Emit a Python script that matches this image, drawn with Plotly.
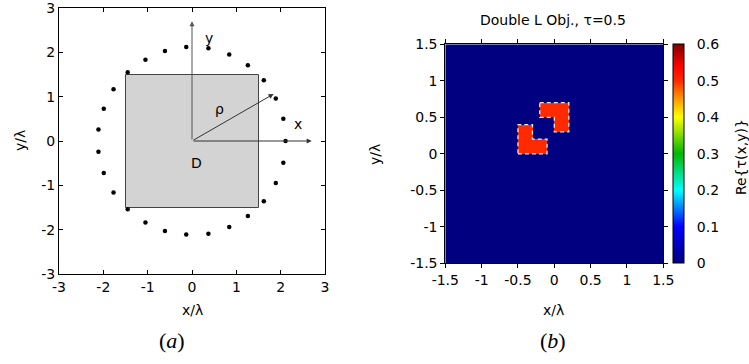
import numpy as np
import plotly.graph_objects as go

# ---------------- data ----------------
# receiver points around domain D (panel a)
rx_x = [2.11, 2.06, 1.89, 1.62, 1.26, 0.84, 0.37, -0.13, -0.61, -1.05, -1.45, -1.77, -1.99, -2.11,
        -2.11, -1.99, -1.77, -1.45, -1.05, -0.61, -0.13, 0.37, 0.84, 1.26, 1.62, 1.89, 2.06]
rx_y = [0.0, 0.50, 0.96, 1.37, 1.71, 1.95, 2.09, 2.12, 2.03, 1.83, 1.55, 1.17, 0.73, 0.26,
        -0.24, -0.72, -1.16, -1.54, -1.84, -2.03, -2.11, -2.09, -1.94, -1.69, -1.36, -0.95, -0.49]

# domain D square corners
dom_x = [-1.5, 1.5, 1.5, -1.5, -1.5]
dom_y = [-1.5, -1.5, 1.5, 1.5, -1.5]

# double-L object (panel b): rectangles (x0, x1, y0, y1) with contrast value
obj_rects = [(-0.5, -0.3, 0.0, 0.4), (-0.5, -0.1, 0.0, 0.2),
             (-0.2, 0.2, 0.5, 0.7), (0.0, 0.2, 0.3, 0.7)]
obj_value = 0.5
# outlines of the two L shapes
L1_x = [-0.5, -0.1, -0.1, -0.3, -0.3, -0.5, -0.5]
L1_y = [0.0, 0.0, 0.2, 0.2, 0.4, 0.4, 0.0]
L2_x = [-0.2, 0.2, 0.2, 0.0, 0.0, -0.2, -0.2]
L2_y = [0.7, 0.7, 0.3, 0.3, 0.5, 0.5, 0.7]

ticks_a = [-3, -2, -1, 0, 1, 2, 3]
ticks_a_text = ["-3", "-2", "-1", "0", "1", "2", "3"]
ticks_b = [-1.5, -1, -0.5, 0, 0.5, 1, 1.5]
ticks_b_text = ["-1.5", "-1", "-0.5", "0", "0.5", "1", "1.5"]
cb_ticks = [0, 0.1, 0.2, 0.3, 0.4, 0.5, 0.6]
cb_ticks_text = ["0", "0.1", "0.2", "0.3", "0.4", "0.5", "0.6"]

# grid for heatmap
step = 0.05
centers = np.arange(-1.5 + step / 2, 1.5, step)
Z = np.zeros((len(centers), len(centers)))
for (x0, x1, y0, y1) in obj_rects:
    mx = (centers > x0) & (centers < x1)
    my = (centers > y0) & (centers < y1)
    Z[np.ix_(my, mx)] = obj_value

W, H = 749, 364
FONT = "DejaVu Sans"
FS = 14

fig = go.Figure()

# ---- panel a ----
fig.add_trace(go.Scatter(x=dom_x, y=dom_y, mode="lines", fill="toself",
                         fillcolor="#d3d3d3", line=dict(color="#444", width=1),
                         xaxis="x", yaxis="y", showlegend=False, hoverinfo="skip"))
fig.add_trace(go.Scatter(x=rx_x, y=rx_y, mode="markers",
                         marker=dict(color="black", size=4.5),
                         xaxis="x", yaxis="y", showlegend=False))

# ---- panel b ----
cscale = [[0.0, "#000080"], [0.167, "#0000ff"], [0.333, "#00ffff"], [0.5, "#00b800"],
          [0.667, "#ffff00"], [0.75, "#ff9900"], [0.833, "#ff2a00"], [0.9, "#ff0000"],
          [1.0, "#800000"]]
fig.add_trace(go.Heatmap(x=centers, y=centers, z=Z, zmin=0, zmax=0.6,
                         colorscale=cscale, xaxis="x2", yaxis="y2",
                         colorbar=dict(x=672.7 / W, xanchor="left", thickness=11,
                                       len=219, lenmode="pixels",
                                       y=(364 - 153.8) / H, yanchor="middle",
                                       outlinewidth=1, outlinecolor="black",
                                       tickvals=cb_ticks, ticktext=cb_ticks_text,
                                       ticks="outside", ticklen=10, tickcolor="white",
                                       tickfont=dict(family=FONT, size=FS, color="black"),
                                       xpad=0, ypad=0)))
for lx, ly in [(L1_x, L1_y), (L2_x, L2_y)]:
    fig.add_trace(go.Scatter(x=lx, y=ly, mode="lines",
                             line=dict(color="#e8e8f0", width=1.3, dash="4px,3px"),
                             xaxis="x2", yaxis="y2", showlegend=False, hoverinfo="skip"))

axis_common = dict(showgrid=False, zeroline=False, showline=True, linecolor="black",
                   linewidth=1, mirror="allticks", ticklen=4, tickcolor="black",
                   automargin=False, ticklabeloverflow="allow",
                   tickfont=dict(family=FONT, size=FS, color="black"))

fig.update_layout(
    width=W, height=H, margin=dict(l=0, r=0, t=0, b=0, autoexpand=False),
    paper_bgcolor="white", plot_bgcolor="white", showlegend=False,
    xaxis=dict(domain=[59 / W, 325 / W], range=[-3, 3], tickvals=ticks_a,
               ticktext=ticks_a_text, ticks="inside", anchor="y", **axis_common),
    yaxis=dict(domain=[(364 - 274) / H, (364 - 8) / H], range=[-3, 3], tickvals=ticks_a,
               ticktext=ticks_a_text, ticks="inside", anchor="x", **axis_common),
    xaxis2=dict(domain=[445.3 / W, 663.3 / W], range=[-1.5, 1.5], tickvals=ticks_b,
                ticktext=ticks_b_text, ticks="outside", anchor="y2", **axis_common),
    yaxis2=dict(domain=[(364 - 263.3) / H, (364 - 44.3) / H], range=[-1.5, 1.5],
                tickvals=ticks_b, ticktext=ticks_b_text, ticks="outside", anchor="x2",
                **axis_common),
)

ann = []
# arrows in panel a
for (ax_, ay_, x_, y_, col) in [(0, 0, 0, 2.7, "#555"), (0, 0, 2.7, 0, "#333"),
                                (0, 0, 1.84, 1.06, "#333")]:
    ann.append(dict(x=x_, y=y_, ax=ax_, ay=ay_, xref="x", yref="y", axref="x", ayref="y",
                    showarrow=True, arrowhead=2, arrowsize=1, arrowwidth=1, arrowcolor=col,
                    text=""))
for (t, x_, y_) in [("y", 0.38, 2.33), ("x", 2.4, 0.39), ("ρ", 0.63, 0.73), ("D", 0.1, -0.5)]:
    ann.append(dict(x=x_, y=y_, xref="x", yref="y", text=t, showarrow=False,
                    font=dict(family=FONT, size=FS, color="black")))

def pa(text, px, py, size=FS, angle=0, family=FONT):
    return dict(x=px / W, y=1 - py / H, xref="paper", yref="paper", text=text,
                showarrow=False, textangle=angle, xanchor="center", yanchor="middle",
                font=dict(family=family, size=size, color="black"))

ann += [
    pa("x/λ", 192, 310),
    pa("y/λ", 20, 141, angle=-90),
    pa("(<i>a</i>)", 172, 340, size=22, family="Liberation Serif"),
    pa("x/λ", 553, 310),
    pa("y/λ", 375, 155, angle=-90),
    pa("(<i>b</i>)", 553, 340, size=22, family="Liberation Serif"),
    pa("Double L Obj., τ=0.5", 553, 20),
    pa("Re{τ(x,y)}", 741, 157, angle=-90),
]
fig.update_layout(annotations=ann)

fig.write_html("out.html", config={"displayModeBar": False},
               post_script="document.body.style.margin='0';")
